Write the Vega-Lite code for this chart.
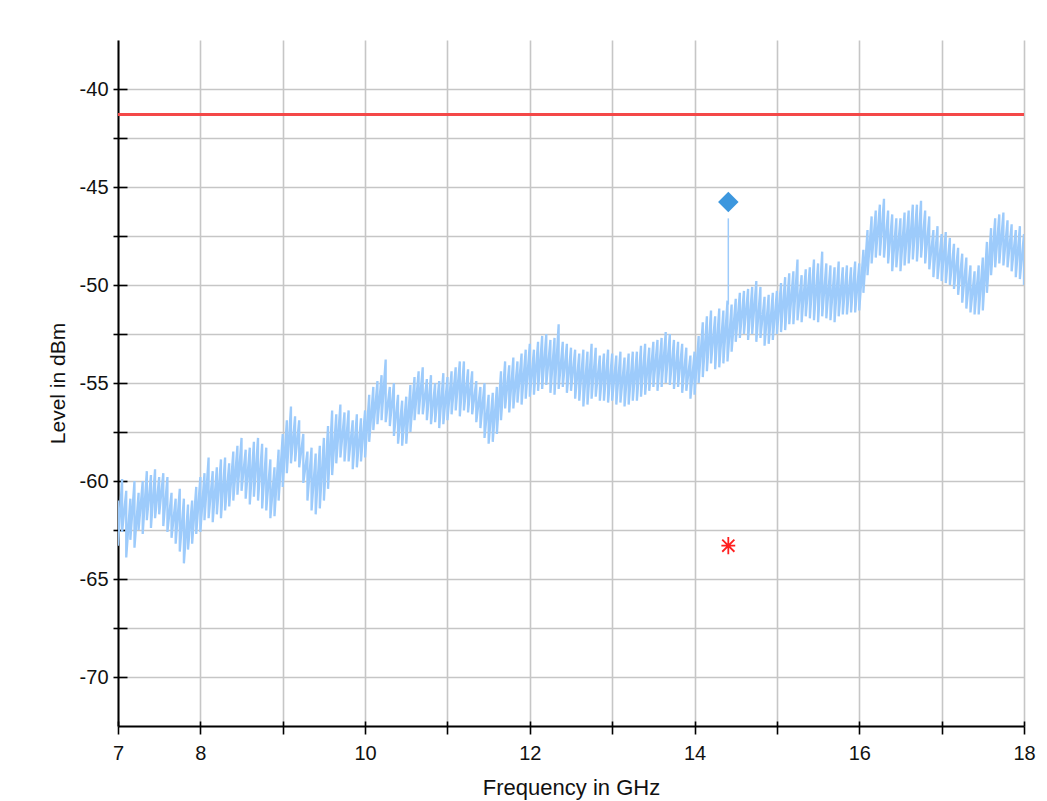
{
  "$schema": "https://vega.github.io/schema/vega-lite/v6.json",
  "width": 906,
  "height": 686,
  "autosize": {"type": "none"},
  "padding": {"left": 118, "top": 40, "right": 23, "bottom": 75},
  "background": "white",
  "config": {
    "view": {"stroke": null},
    "font": "Liberation Sans",
    "axis": {
      "domainColor": "#000000",
      "domainWidth": 2,
      "tickColor": "#000000",
      "tickWidth": 1.6,
      "gridColor": "#c6c6c6",
      "gridWidth": 1.6,
      "labelFont": "Liberation Sans",
      "labelFontSize": 20,
      "labelColor": "#111111",
      "titleFont": "Liberation Sans",
      "titleFontSize": 21,
      "titleFontWeight": "normal",
      "titleColor": "#111111",
      "labelOverlap": false,
      "labelFlush": false,
      "labelBound": false
    }
  },
  "datasets": {
    "trace": [
      {"f":7.00,"lo":-63.3,"hi":-61.0},{"f":7.05,"lo":-62.6,"hi":-59.9},{"f":7.10,"lo":-63.9,"hi":-60.5},{"f":7.15,"lo":-63.0,"hi":-60.9},
      {"f":7.20,"lo":-63.4,"hi":-60.0},{"f":7.25,"lo":-62.5,"hi":-60.6},{"f":7.30,"lo":-62.7,"hi":-60.0},{"f":7.35,"lo":-62.0,"hi":-59.5},
      {"f":7.40,"lo":-62.4,"hi":-59.7},{"f":7.45,"lo":-61.9,"hi":-59.4},{"f":7.50,"lo":-61.7,"hi":-59.8},{"f":7.55,"lo":-62.3,"hi":-59.6},
      {"f":7.60,"lo":-62.6,"hi":-59.8},{"f":7.65,"lo":-62.9,"hi":-60.6},{"f":7.70,"lo":-63.2,"hi":-60.9},{"f":7.75,"lo":-63.6,"hi":-60.4},
      {"f":7.80,"lo":-64.2,"hi":-60.9},{"f":7.85,"lo":-63.5,"hi":-61.2},{"f":7.90,"lo":-63.2,"hi":-61.0},{"f":7.95,"lo":-62.7,"hi":-60.3},
      {"f":8.00,"lo":-62.6,"hi":-59.8},{"f":8.05,"lo":-62.0,"hi":-59.6},{"f":8.10,"lo":-61.9,"hi":-58.8},{"f":8.15,"lo":-62.1,"hi":-59.5},
      {"f":8.20,"lo":-61.7,"hi":-59.3},{"f":8.25,"lo":-61.9,"hi":-58.9},{"f":8.30,"lo":-61.5,"hi":-58.8},{"f":8.35,"lo":-61.3,"hi":-59.1},
      {"f":8.40,"lo":-61.0,"hi":-58.5},{"f":8.45,"lo":-60.7,"hi":-58.2},{"f":8.50,"lo":-60.5,"hi":-57.8},{"f":8.55,"lo":-60.9,"hi":-58.4},
      {"f":8.60,"lo":-61.2,"hi":-58.3},{"f":8.65,"lo":-60.8,"hi":-58.0},{"f":8.70,"lo":-61.0,"hi":-57.8},{"f":8.75,"lo":-61.4,"hi":-58.1},
      {"f":8.80,"lo":-61.5,"hi":-58.3},{"f":8.85,"lo":-61.9,"hi":-58.9},{"f":8.90,"lo":-61.8,"hi":-59.3},{"f":8.95,"lo":-61.0,"hi":-58.4},
      {"f":9.00,"lo":-60.3,"hi":-57.6},{"f":9.05,"lo":-59.6,"hi":-56.9},{"f":9.10,"lo":-59.1,"hi":-56.2},{"f":9.15,"lo":-59.0,"hi":-56.7},
      {"f":9.20,"lo":-59.3,"hi":-56.9},{"f":9.25,"lo":-60.1,"hi":-57.6},{"f":9.30,"lo":-61.0,"hi":-58.5},{"f":9.35,"lo":-61.5,"hi":-58.3},
      {"f":9.40,"lo":-61.7,"hi":-58.6},{"f":9.45,"lo":-61.4,"hi":-58.2},{"f":9.50,"lo":-61.0,"hi":-57.8},{"f":9.55,"lo":-60.4,"hi":-57.2},
      {"f":9.60,"lo":-59.7,"hi":-56.4},{"f":9.65,"lo":-59.1,"hi":-56.6},{"f":9.70,"lo":-58.8,"hi":-56.1},{"f":9.75,"lo":-59.0,"hi":-56.5},
      {"f":9.80,"lo":-59.0,"hi":-56.4},{"f":9.85,"lo":-59.4,"hi":-56.9},{"f":9.90,"lo":-59.3,"hi":-56.6},{"f":9.95,"lo":-59.0,"hi":-56.8},
      {"f":10.00,"lo":-58.8,"hi":-56.4},{"f":10.05,"lo":-58.0,"hi":-55.6},{"f":10.10,"lo":-57.4,"hi":-55.2},{"f":10.15,"lo":-57.1,"hi":-54.9},
      {"f":10.20,"lo":-56.9,"hi":-54.6},{"f":10.25,"lo":-57.0,"hi":-53.8},{"f":10.30,"lo":-57.2,"hi":-55.2},{"f":10.35,"lo":-57.7,"hi":-55.0},
      {"f":10.40,"lo":-58.1,"hi":-55.6},{"f":10.45,"lo":-58.2,"hi":-55.9},{"f":10.50,"lo":-58.1,"hi":-55.7},{"f":10.55,"lo":-57.5,"hi":-55.1},
      {"f":10.60,"lo":-56.9,"hi":-54.7},{"f":10.65,"lo":-56.6,"hi":-54.4},{"f":10.70,"lo":-56.6,"hi":-54.2},{"f":10.75,"lo":-56.9,"hi":-54.8},
      {"f":10.80,"lo":-57.1,"hi":-54.6},{"f":10.85,"lo":-57.0,"hi":-55.0},{"f":10.90,"lo":-57.3,"hi":-54.9},{"f":10.95,"lo":-57.1,"hi":-54.5},
      {"f":11.00,"lo":-56.9,"hi":-54.7},{"f":11.05,"lo":-56.6,"hi":-54.4},{"f":11.10,"lo":-56.4,"hi":-54.2},{"f":11.15,"lo":-56.7,"hi":-53.9},
      {"f":11.20,"lo":-56.4,"hi":-53.9},{"f":11.25,"lo":-56.5,"hi":-54.3},{"f":11.30,"lo":-56.6,"hi":-54.4},{"f":11.35,"lo":-57.0,"hi":-54.9},
      {"f":11.40,"lo":-57.3,"hi":-55.2},{"f":11.45,"lo":-57.8,"hi":-55.0},{"f":11.50,"lo":-58.1,"hi":-55.6},{"f":11.55,"lo":-58.0,"hi":-55.5},
      {"f":11.60,"lo":-57.6,"hi":-55.2},{"f":11.65,"lo":-56.9,"hi":-54.4},{"f":11.70,"lo":-56.3,"hi":-53.9},{"f":11.75,"lo":-56.5,"hi":-54.1},
      {"f":11.80,"lo":-56.3,"hi":-53.7},{"f":11.85,"lo":-56.0,"hi":-53.9},{"f":11.90,"lo":-56.1,"hi":-53.5},{"f":11.95,"lo":-55.8,"hi":-53.3},
      {"f":12.00,"lo":-55.7,"hi":-53.0},{"f":12.05,"lo":-55.6,"hi":-53.3},{"f":12.10,"lo":-55.4,"hi":-52.9},{"f":12.15,"lo":-55.3,"hi":-52.6},
      {"f":12.20,"lo":-55.1,"hi":-52.5},{"f":12.25,"lo":-55.5,"hi":-52.8},{"f":12.30,"lo":-55.6,"hi":-52.7},{"f":12.35,"lo":-55.3,"hi":-52.0},
      {"f":12.40,"lo":-55.2,"hi":-52.9},{"f":12.45,"lo":-55.5,"hi":-53.0},{"f":12.50,"lo":-55.4,"hi":-53.2},{"f":12.55,"lo":-55.8,"hi":-53.3},
      {"f":12.60,"lo":-55.9,"hi":-53.5},{"f":12.65,"lo":-56.2,"hi":-53.3},{"f":12.70,"lo":-56.1,"hi":-53.4},{"f":12.75,"lo":-55.8,"hi":-53.0},
      {"f":12.80,"lo":-55.7,"hi":-53.2},{"f":12.85,"lo":-55.9,"hi":-53.6},{"f":12.90,"lo":-55.9,"hi":-53.5},{"f":12.95,"lo":-56.0,"hi":-53.3},
      {"f":13.00,"lo":-55.9,"hi":-53.5},{"f":13.05,"lo":-56.1,"hi":-53.6},{"f":13.10,"lo":-56.0,"hi":-53.4},{"f":13.15,"lo":-56.2,"hi":-53.7},
      {"f":13.20,"lo":-56.1,"hi":-53.5},{"f":13.25,"lo":-55.9,"hi":-53.4},{"f":13.30,"lo":-55.9,"hi":-53.4},{"f":13.35,"lo":-55.7,"hi":-53.1},
      {"f":13.40,"lo":-55.6,"hi":-53.0},{"f":13.45,"lo":-55.4,"hi":-53.2},{"f":13.50,"lo":-55.2,"hi":-52.9},{"f":13.55,"lo":-55.4,"hi":-52.8},
      {"f":13.60,"lo":-55.2,"hi":-52.7},{"f":13.65,"lo":-55.0,"hi":-52.4},{"f":13.70,"lo":-55.1,"hi":-52.5},{"f":13.75,"lo":-55.3,"hi":-52.8},
      {"f":13.80,"lo":-55.2,"hi":-52.9},{"f":13.85,"lo":-55.5,"hi":-53.0},{"f":13.90,"lo":-55.4,"hi":-53.2},{"f":13.95,"lo":-55.8,"hi":-53.6},
      {"f":14.00,"lo":-55.6,"hi":-53.4},{"f":14.05,"lo":-55.0,"hi":-52.6},{"f":14.10,"lo":-54.7,"hi":-51.9},{"f":14.15,"lo":-54.4,"hi":-51.6},
      {"f":14.20,"lo":-54.0,"hi":-51.3},{"f":14.25,"lo":-54.3,"hi":-51.6},{"f":14.30,"lo":-54.2,"hi":-51.2},{"f":14.35,"lo":-54.0,"hi":-51.3},
      {"f":14.40,"lo":-53.9,"hi":-50.8},{"f":14.45,"lo":-53.4,"hi":-51.0},{"f":14.50,"lo":-52.9,"hi":-50.7},{"f":14.55,"lo":-52.7,"hi":-50.4},
      {"f":14.60,"lo":-52.5,"hi":-50.3},{"f":14.65,"lo":-52.8,"hi":-50.2},{"f":14.70,"lo":-52.5,"hi":-50.1},{"f":14.75,"lo":-52.9,"hi":-49.8},
      {"f":14.80,"lo":-52.7,"hi":-50.1},{"f":14.85,"lo":-53.1,"hi":-50.6},{"f":14.90,"lo":-53.0,"hi":-50.5},{"f":14.95,"lo":-52.8,"hi":-50.4},
      {"f":15.00,"lo":-52.5,"hi":-50.3},{"f":15.05,"lo":-52.4,"hi":-49.9},{"f":15.10,"lo":-52.3,"hi":-49.6},{"f":15.15,"lo":-52.0,"hi":-49.4},
      {"f":15.20,"lo":-52.0,"hi":-49.3},{"f":15.25,"lo":-51.8,"hi":-48.7},{"f":15.30,"lo":-51.9,"hi":-49.5},{"f":15.35,"lo":-51.6,"hi":-49.2},
      {"f":15.40,"lo":-51.7,"hi":-49.1},{"f":15.45,"lo":-51.8,"hi":-48.7},{"f":15.50,"lo":-51.9,"hi":-48.9},{"f":15.55,"lo":-51.6,"hi":-48.3},
      {"f":15.60,"lo":-51.7,"hi":-48.9},{"f":15.65,"lo":-51.8,"hi":-49.0},{"f":15.70,"lo":-51.9,"hi":-49.1},{"f":15.75,"lo":-51.6,"hi":-48.8},
      {"f":15.80,"lo":-51.5,"hi":-49.1},{"f":15.85,"lo":-51.5,"hi":-49.0},{"f":15.90,"lo":-51.4,"hi":-49.1},{"f":15.95,"lo":-51.4,"hi":-48.8},
      {"f":16.00,"lo":-51.3,"hi":-48.9},{"f":16.05,"lo":-50.4,"hi":-48.2},{"f":16.10,"lo":-49.5,"hi":-47.2},{"f":16.15,"lo":-48.9,"hi":-46.5},
      {"f":16.20,"lo":-48.6,"hi":-46.2},{"f":16.25,"lo":-48.5,"hi":-45.9},{"f":16.30,"lo":-48.6,"hi":-45.6},{"f":16.35,"lo":-48.9,"hi":-46.2},
      {"f":16.40,"lo":-49.3,"hi":-46.4},{"f":16.45,"lo":-49.1,"hi":-46.6},{"f":16.50,"lo":-49.3,"hi":-46.6},{"f":16.55,"lo":-49.0,"hi":-46.3},
      {"f":16.60,"lo":-48.9,"hi":-46.2},{"f":16.65,"lo":-48.7,"hi":-45.9},{"f":16.70,"lo":-48.8,"hi":-45.9},{"f":16.75,"lo":-48.6,"hi":-45.7},
      {"f":16.80,"lo":-48.9,"hi":-46.2},{"f":16.85,"lo":-49.2,"hi":-46.5},{"f":16.90,"lo":-49.6,"hi":-47.2},{"f":16.95,"lo":-49.7,"hi":-47.0},
      {"f":17.00,"lo":-49.8,"hi":-47.4},{"f":17.05,"lo":-49.9,"hi":-47.3},{"f":17.10,"lo":-50.0,"hi":-47.6},{"f":17.15,"lo":-50.2,"hi":-47.9},
      {"f":17.20,"lo":-50.5,"hi":-48.1},{"f":17.25,"lo":-50.9,"hi":-48.4},{"f":17.30,"lo":-51.2,"hi":-48.6},{"f":17.35,"lo":-51.4,"hi":-49.0},
      {"f":17.40,"lo":-51.5,"hi":-49.3},{"f":17.45,"lo":-51.5,"hi":-49.0},{"f":17.50,"lo":-51.3,"hi":-48.6},{"f":17.55,"lo":-50.4,"hi":-47.8},
      {"f":17.60,"lo":-49.5,"hi":-47.1},{"f":17.65,"lo":-49.1,"hi":-46.6},{"f":17.70,"lo":-48.9,"hi":-46.4},{"f":17.75,"lo":-49.0,"hi":-46.3},
      {"f":17.80,"lo":-49.1,"hi":-46.7},{"f":17.85,"lo":-49.3,"hi":-46.9},{"f":17.90,"lo":-49.6,"hi":-47.2},{"f":17.95,"lo":-49.7,"hi":-47.0},
      {"f":18.00,"lo":-50.0,"hi":-47.4}
    ],
    "limit": [{"level": -41.3}],
    "marker": [{"f": 14.41, "level": -45.77, "top": -46.6, "foot": -51.0}],
    "peak": [{"f": 14.41, "level": -63.3}]
  },
  "layer": [
    {
      "data": {"name": "trace"},
      "transform": [{"fold": ["hi", "lo"], "as": ["edge", "level"]}],
      "mark": {"type": "line", "color": "#9dcbfb", "strokeWidth": 2.3, "strokeJoin": "bevel", "clip": true},
      "encoding": {
        "x": {
          "field": "f", "type": "quantitative",
          "scale": {"domain": [7, 18], "nice": false, "zero": false},
          "axis": {
            "title": "Frequency in GHz",
            "values": [7, 8, 9, 10, 11, 12, 13, 14, 15, 16, 17, 18],
            "labelExpr": "indexof([9, 11, 13, 15, 17], datum.value) >= 0 ? '' : '' + datum.value",
            "tickSize": 8,
            "labelPadding": 9,
            "titlePadding": 14,
            "titleFontSize": 22,
            "grid": true
          }
        },
        "y": {
          "field": "level", "type": "quantitative",
          "scale": {"domain": [-72.5, -37.5], "nice": false, "zero": false},
          "axis": {
            "title": "Level in dBm",
            "values": [-70, -67.5, -65, -62.5, -60, -57.5, -55, -52.5, -50, -47.5, -45, -42.5, -40],
            "labelExpr": "datum.value % 5 === 0 ? '' + datum.value : ''",
            "tickSize": 5,
            "labelPadding": 5,
            "titlePadding": 11,
            "grid": true
          }
        },
        "order": [{"field": "f", "type": "quantitative"}, {"field": "edge", "type": "ordinal"}]
      }
    },
    {
      "data": {"name": "marker"},
      "mark": {"type": "rule", "color": "#9dcbfb", "strokeWidth": 1.5},
      "encoding": {
        "x": {
          "field": "f", "type": "quantitative",
          "axis": {
            "orient": "bottom", "title": null, "labels": false, "domain": false, "grid": false,
            "values": [7, 8, 9, 10, 11, 12, 13, 14, 15, 16, 17, 18],
            "tickSize": -5
          }
        },
        "y": {
          "field": "top", "type": "quantitative",
          "axis": {
            "orient": "left", "title": null, "labels": false, "domain": false, "grid": false,
            "values": [-70, -67.5, -65, -62.5, -60, -57.5, -55, -52.5, -50, -47.5, -45, -42.5, -40],
            "tickSize": -9
          }
        },
        "y2": {"field": "foot"}
      }
    },
    {
      "data": {"name": "limit"},
      "mark": {"type": "rule", "color": "#f44848", "strokeWidth": 3},
      "encoding": {
        "y": {"field": "level", "type": "quantitative", "axis": null}
      }
    },
    {
      "data": {"name": "marker"},
      "mark": {"type": "point", "shape": "diamond", "filled": true, "size": 420, "color": "#3c97de", "opacity": 1},
      "encoding": {
        "x": {"field": "f", "type": "quantitative", "axis": null},
        "y": {"field": "level", "type": "quantitative", "axis": null}
      }
    },
    {
      "data": {"name": "peak"},
      "mark": {
        "type": "point",
        "shape": "M0,-1L0,1M-0.8,0L0.8,0M-0.7,-0.7L0.7,0.7M-0.7,0.7L0.7,-0.7",
        "filled": false, "size": 300, "color": "#ff1f1f", "strokeWidth": 1.8, "opacity": 1
      },
      "encoding": {
        "x": {"field": "f", "type": "quantitative", "axis": null},
        "y": {"field": "level", "type": "quantitative", "axis": null}
      }
    }
  ],
  "resolve": {"axis": {"x": "independent", "y": "independent"}}
}
